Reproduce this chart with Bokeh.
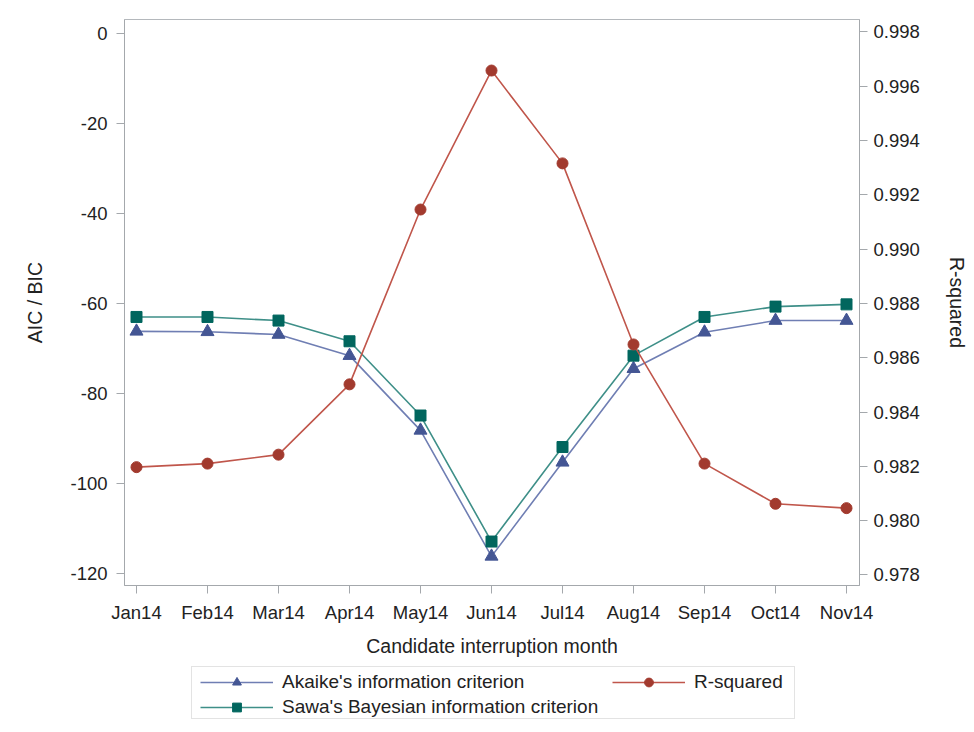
from bokeh.plotting import figure
from bokeh.layouts import column
from bokeh.models import (Range1d, LinearAxis, FixedTicker, NumeralTickFormatter,
                          Legend, LegendItem, ColumnDataSource)
from bokeh.embed import file_html
from bokeh.resources import INLINE
import numpy as np

months = ["Jan14", "Feb14", "Mar14", "Apr14", "May14", "Jun14", "Jul14",
          "Aug14", "Sep14", "Oct14", "Nov14"]
aic = [-66.2, -66.3, -66.9, -71.6, -88.2, -116.2, -95.3, -74.5, -66.4, -63.8, -63.8]
sbc = [-63.0, -63.0, -63.8, -68.4, -84.9, -112.9, -91.9, -71.6, -63.0, -60.7, -60.2]
rsq = [0.98197, 0.98210, 0.98243, 0.98502, 0.99146, 0.99658, 0.99316,
       0.98649, 0.98210, 0.98062, 0.98046]
left_ticks = [-120, -100, -80, -60, -40, -20, 0]
right_ticks = [0.978, 0.980, 0.982, 0.984, 0.986, 0.988, 0.990, 0.992, 0.994, 0.996, 0.998]
series_names = ["Akaike's information criterion", "R-squared",
                "Sawa's Bayesian information criterion"]

x = list(range(len(months)))
src = ColumnDataSource(dict(x=x, aic=aic, sbc=sbc, rsq=rsq))

FONT = "Liberation Sans"
TXT = "#222222"
W = 969

p = figure(frame_width=735, frame_height=566, output_backend="svg", toolbar_location=None,
           x_range=Range1d(-0.169, 10.183),
           y_range=Range1d(-122.67, 3.1),
           min_border_left=124, min_border_right=110, min_border_top=19,
           min_border_bottom=80)
p.extra_y_ranges = {"r2": Range1d(0.97761, 0.99846)}

p.xgrid.visible = False
p.ygrid.visible = False
p.outline_line_color = "#b4b8bc"
p.background_fill_color = "white"
p.border_fill_color = "white"

AX = "#a4a8ac"

def style_axis(ax):
    ax.axis_line_color = AX
    ax.major_tick_line_color = AX
    ax.major_tick_out = 8
    ax.major_tick_in = 0
    ax.minor_tick_line_color = None
    ax.major_label_text_font = FONT
    ax.major_label_text_font_size = "18.5px"
    ax.major_label_text_color = TXT
    ax.axis_label_text_font = FONT
    ax.axis_label_text_font_size = "19.5px"
    ax.axis_label_text_font_style = "normal"
    ax.axis_label_text_color = TXT

xa = p.xaxis[0]
xa.ticker = FixedTicker(ticks=x)
xa.major_label_overrides = {i: m for i, m in enumerate(months)}
xa.axis_label = "Candidate interruption month"
xa.major_label_standoff = 8
xa.axis_label_standoff = 9
style_axis(xa)

ya = p.yaxis[0]
ya.ticker = FixedTicker(ticks=left_ticks)
ya.formatter = NumeralTickFormatter(format="0")
ya.axis_label = "AIC / BIC"
ya.major_label_standoff = 9
ya.axis_label_standoff = 21
style_axis(ya)

ra = LinearAxis(y_range_name="r2", axis_label="R-squared",
                ticker=FixedTicker(ticks=right_ticks),
                formatter=NumeralTickFormatter(format="0.000"))
ra.major_label_standoff = 6
ra.axis_label_standoff = 23
style_axis(ra)
p.add_layout(ra, "right")

BLUE_L, BLUE_M = "#6F7EB3", "#445694"
RED_L, RED_M = "#C0564B", "#A23A2E"
GRN_L, GRN_M = "#3E8F88", "#01665E"

p.line("x", "aic", source=src, line_color=BLUE_L, line_width=1.6)
p.scatter("x", "aic", source=src, marker="triangle", size=13,
          fill_color=BLUE_M, line_color=BLUE_M)
p.line("x", "sbc", source=src, line_color=GRN_L, line_width=1.6)
p.scatter("x", "sbc", source=src, marker="square", size=11,
          fill_color=GRN_M, line_color=GRN_M)
p.line("x", "rsq", source=src, y_range_name="r2", line_color=RED_L, line_width=1.6)
p.scatter("x", "rsq", source=src, y_range_name="r2", marker="circle", size=11,
          fill_color=RED_M, line_color=RED_M)

# ---- legend strip (separate figure below the chart) ----
LH = 60
lf = figure(frame_width=W, frame_height=LH, output_backend="svg", toolbar_location=None,
            x_range=Range1d(0, W), y_range=Range1d(0, LH),
            x_axis_location=None, y_axis_location=None,
            min_border=0, min_border_left=0, min_border_right=0,
            min_border_top=0, min_border_bottom=0)
lf.xgrid.visible = False
lf.ygrid.visible = False
lf.outline_line_color = None
lf.border_fill_color = "white"

# legend-only renderers: one undefined (NaN) point, so nothing shows in the strip
dummy = ColumnDataSource(dict(x=np.array([np.nan]), y=np.array([np.nan])))
dl1 = lf.line("x", "y", source=dummy, line_color=BLUE_L, line_width=1.6)
dm1 = lf.scatter("x", "y", source=dummy, marker="triangle", size=12,
                 fill_color=BLUE_M, line_color=BLUE_M)
dl2 = lf.line("x", "y", source=dummy, line_color=RED_L, line_width=1.6)
dm2 = lf.scatter("x", "y", source=dummy, marker="circle", size=11,
                 fill_color=RED_M, line_color=RED_M)
dl3 = lf.line("x", "y", source=dummy, line_color=GRN_L, line_width=1.6)
dm3 = lf.scatter("x", "y", source=dummy, marker="square", size=11,
                 fill_color=GRN_M, line_color=GRN_M)

box = Legend(items=[LegendItem(label=" ", renderers=[])],
             location=(191, 6), orientation="vertical")
box.padding = 0
box.margin = 0
box.glyph_width = 1
box.glyph_height = 51
box.label_height = 51
box.label_width = 601
box.label_standoff = 0
box.label_text_font_size = "1px"
box.border_line_color = "#c8c8c8"
box.background_fill_color = "white"
box.background_fill_alpha = 1
lf.add_layout(box, "center")

def style_legend(lg):
    lg.label_text_font = FONT
    lg.label_text_font_size = "19px"
    lg.label_text_color = TXT
    lg.glyph_width = 73
    lg.glyph_height = 22
    lg.label_height = 22
    lg.label_standoff = 9
    lg.spacing = 3
    lg.padding = 0
    lg.margin = 0
    lg.border_line_color = None
    lg.background_fill_alpha = 0

legA = Legend(items=[
    LegendItem(label=series_names[0], renderers=[dl1, dm1]),
    LegendItem(label=series_names[2], renderers=[dl3, dm3]),
], location=(200, 7), orientation="vertical")
style_legend(legA)
lf.add_layout(legA, "center")

legB = Legend(items=[
    LegendItem(label=series_names[1], renderers=[dl2, dm2]),
], location=(612, 32), orientation="vertical")
style_legend(legB)
lf.add_layout(legB, "center")

layout = column(p, lf, spacing=0)
open("out.html", "w").write(file_html(layout, INLINE))
